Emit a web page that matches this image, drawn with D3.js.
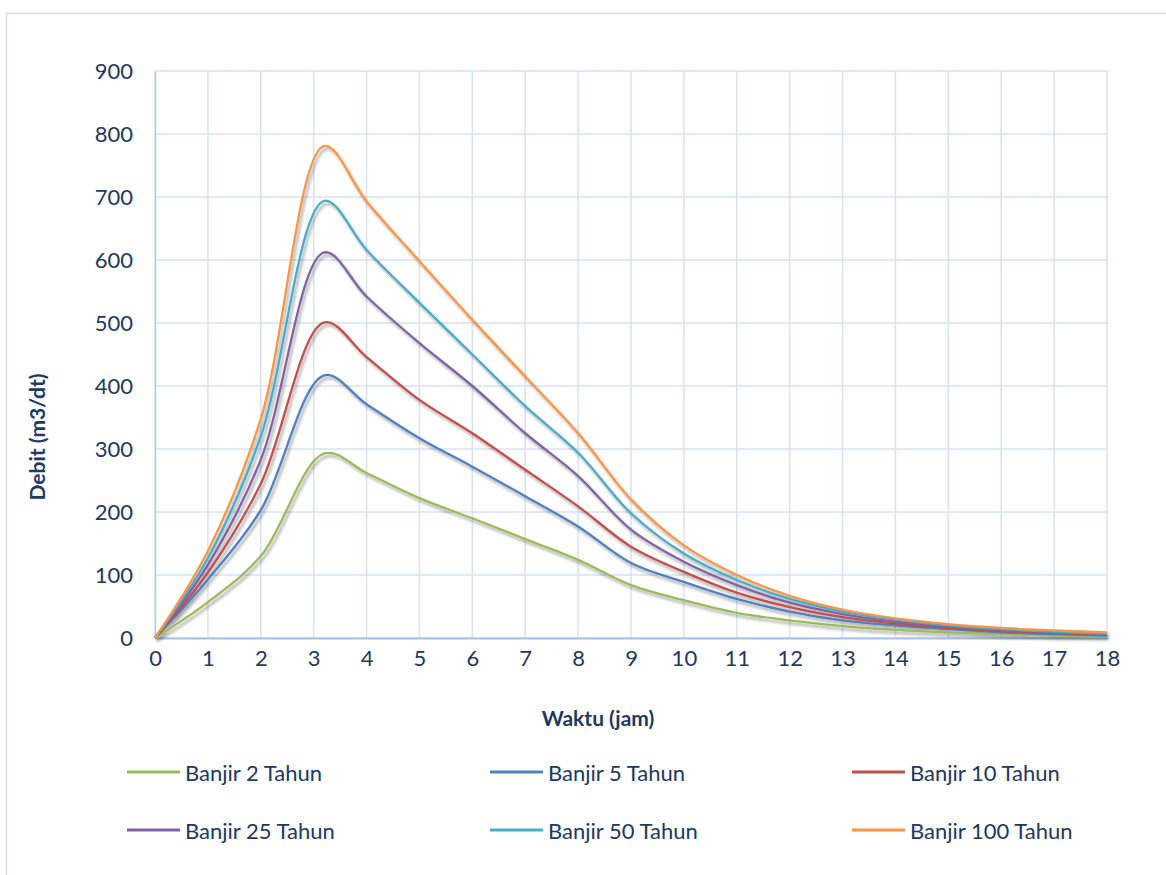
<!DOCTYPE html>
<html><head><meta charset="utf-8">
<script src="https://cdn.jsdelivr.net/npm/d3@7"></script>
<style>
body{margin:0;background:#fff}
svg{display:block}
text{font-family:Lato,"Open Sans",sans-serif;fill:#203864}
</style>
</head><body>
<svg id="chart" width="1166" height="875"></svg>
<script>
// ---- data ----
const hours = [0, 1, 2, 3.2, 4, 5, 6, 7, 8, 9, 10, 11, 12, 13, 14, 15, 16, 17, 18];
const xTickLabels = d3.range(0, 19);
const yTickLabels = d3.range(0, 901, 100);
const seriesNames = ["Banjir 2 Tahun", "Banjir 5 Tahun", "Banjir 10 Tahun", "Banjir 25 Tahun", "Banjir 50 Tahun", "Banjir 100 Tahun"];
const banjir2   = [0, 57, 130, 293, 262, 222, 190, 157, 124, 84, 60, 40, 28, 19, 13, 9, 6, 4, 3];
const banjir5   = [0, 93, 203, 417, 371, 317, 272, 225, 177, 119, 89, 62, 42, 28, 20, 14, 9, 6, 4];
const banjir10  = [0, 104, 245, 501, 446, 378, 325, 267, 209, 145, 105, 72, 49, 33, 23, 16, 11, 8, 5];
const banjir25  = [0, 116, 283, 612, 542, 468, 400, 325, 257, 172, 121, 84, 56, 38, 26, 18, 13, 9, 6];
const banjir50  = [0, 127, 320, 694, 616, 532, 450, 368, 294, 198, 134, 92, 62, 42, 29, 20, 14, 10, 7];
const banjir100 = [0, 138, 348, 781, 693, 598, 505, 415, 325, 220, 147, 100, 67, 45, 31, 22, 16, 12, 9];
const seriesValues = [banjir2, banjir5, banjir10, banjir25, banjir50, banjir100];
const colors = ["#9BBB59", "#4F81BD", "#C0504D", "#8064A2", "#4BACC6", "#F79646"];

// ---- layout ----
const svg = d3.select("#chart");
const m = {left: 155, right: 1107, top: 71, bottom: 638};
const x = d3.scaleLinear().domain([0, 18]).range([m.left, m.right]);
const y = d3.scaleLinear().domain([0, 900]).range([m.bottom, m.top]);

// outer frame
svg.append("rect").attr("x", 6.5).attr("y", 13.5).attr("width", 1200).attr("height", 900)
  .attr("fill", "none").attr("stroke", "#d5dfee").attr("stroke-width", 1.5);

// shadow filter
const defs = svg.append("defs");
const f = defs.append("filter").attr("id", "sh").attr("x", "-5%").attr("y", "-5%").attr("width", "110%").attr("height", "115%");
f.append("feGaussianBlur").attr("in", "SourceAlpha").attr("stdDeviation", 1.8).attr("result", "b");
f.append("feOffset").attr("in", "b").attr("dx", 1.5).attr("dy", 2.5).attr("result", "o");
f.append("feComponentTransfer").attr("in", "o").attr("result", "o2")
  .append("feFuncA").attr("type", "linear").attr("slope", 0.35);
const mg = f.append("feMerge");
mg.append("feMergeNode").attr("in", "o2");
mg.append("feMergeNode").attr("in", "SourceGraphic");

// gridlines
const grid = svg.append("g");
grid.selectAll("line.v").data(xTickLabels).join("line")
  .attr("x1", d => x(d)).attr("x2", d => x(d)).attr("y1", m.top).attr("y2", m.bottom)
  .attr("stroke", "#d7e2f3").attr("stroke-width", 1.5);
grid.selectAll("line.h").data(yTickLabels).join("line")
  .attr("x1", m.left).attr("x2", m.right).attr("y1", d => y(d)).attr("y2", d => y(d))
  .attr("stroke", "#d7e2f3").attr("stroke-width", 1.5);

// axes
const xAxis = d3.axisBottom(x).tickValues(xTickLabels).tickSize(0).tickPadding(12).tickFormat(d3.format("d"));
const yAxis = d3.axisLeft(y).tickValues(yTickLabels).tickSize(0).tickPadding(22).tickFormat(d3.format("d"));
const gx = svg.append("g").attr("transform", `translate(0,${m.bottom})`).call(xAxis);
const gy = svg.append("g").attr("transform", `translate(${m.left},0)`).call(yAxis);
gx.select(".domain").attr("stroke", "#a9c3e8").attr("stroke-width", 2);
gy.select(".domain").attr("stroke", "#b7cdec").attr("stroke-width", 1.5);
[gx, gy].forEach(g => g.selectAll("text").attr("font-size", 22).attr("font-family", "Lato").attr("fill", "#203864"));
gx.selectAll("text").attr("dy", "0.71em");

// lines
const line = d3.line().x((d, i) => x(hours[i])).y(d => y(d)).curve(d3.curveCatmullRom.alpha(0.5));
svg.append("g").attr("filter", "url(#sh)").selectAll("path").data(seriesValues).join("path")
  .attr("d", d => line(d)).attr("fill", "none").attr("stroke", (d, i) => colors[i]).attr("stroke-width", 2.3)
  .attr("stroke-linejoin", "round");

// axis titles
svg.append("text").attr("x", 598).attr("y", 717).attr("text-anchor", "middle").attr("dominant-baseline", "central")
  .attr("font-size", 21).attr("font-weight", "bold").text("Waktu (jam)");
svg.append("text").attr("transform", "translate(36,437) rotate(-90)").attr("text-anchor", "middle")
  .attr("dominant-baseline", "central").attr("font-size", 21).attr("font-weight", "bold").text("Debit (m3/dt)");

// legend
const colX = [127, 490, 852];
const rowY = [772, 830];
const lg = svg.append("g").selectAll("g").data(seriesNames).join("g")
  .attr("transform", (d, i) => `translate(${colX[i % 3]},${rowY[Math.floor(i / 3)]})`);
lg.append("line").attr("x1", 0).attr("x2", 53).attr("y1", 0).attr("y2", 0)
  .attr("stroke", (d, i) => colors[i]).attr("stroke-width", 3);
lg.append("text").attr("x", 58).attr("y", 0).attr("dominant-baseline", "central")
  .attr("font-size", 22).text(d => d);
</script>
</body></html>
